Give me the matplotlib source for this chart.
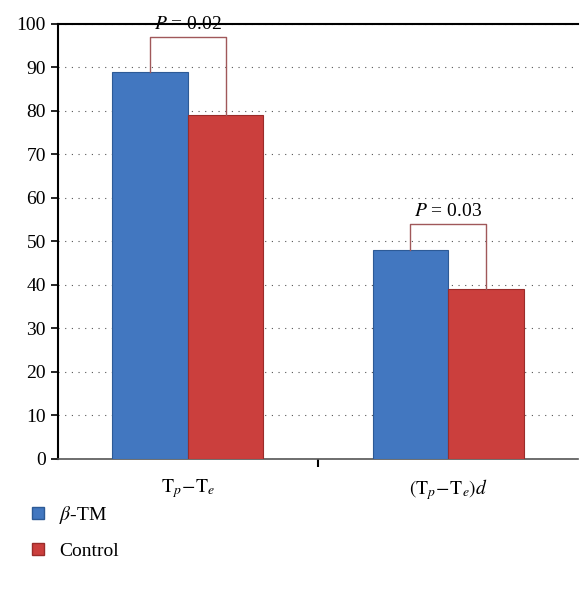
import numpy as np
import matplotlib.pyplot as plt
from matplotlib.patches import Patch

plt.rcParams['font.family'] = 'Liberation Serif'
plt.rcParams['mathtext.fontset'] = 'stix'

# datos
categorias = [r'$\mathrm{T}_p\!-\!\mathrm{T}_e$', r'$(\mathrm{T}_p\!-\!\mathrm{T}_e)d$']
beta_tm = [89, 48]
control = [79, 39]
p_valores = ['0.02', '0.03']
bracket_top = [97, 54]

fig = plt.figure(figsize=(5.84, 5.92), dpi=100)
ax = fig.add_axes([0.099, 0.2247, 0.891, 0.735])

x = np.arange(len(categorias))
w = 0.29
azul = '#4277c0'
rojo = '#cb3f3d'
ax.bar(x - w/2, beta_tm, w, color=azul, edgecolor='#2d5a96', linewidth=0.8, zorder=3)
ax.bar(x + w/2, control, w, color=rojo, edgecolor='#9a2c2a', linewidth=0.8, zorder=3)

# corchetes con valor P (desde el centro de cada barra)
for i in range(len(categorias)):
    xb, xr = x[i] - w/2, x[i] + w/2
    top = bracket_top[i]
    ax.plot([xb, xb, xr, xr], [beta_tm[i], top, top, control[i]],
            color='#a0585a', lw=1.0, zorder=4)
    ax.text(x[i], top + 1.0, r'$P$ = ' + p_valores[i], ha='center', va='bottom',
            fontsize=14, zorder=5)

ax.set_xlim(-0.5, 1.5)
ax.set_ylim(0, 100)
ax.set_yticks(np.arange(0, 101, 10))
ax.yaxis.grid(True, linestyle=(0, (1, 5)), color='#555555', linewidth=0.8)
ax.set_axisbelow(True)

ax.set_xticks([0.5])
ax.set_xticklabels([''])
ax.set_xticks(x, minor=True)
ax.set_xticklabels(categorias, minor=True, fontsize=14)
ax.tick_params(axis='x', which='minor', length=0, pad=13)
ax.tick_params(axis='x', which='major', length=6, width=1.5, direction='out')
ax.tick_params(axis='y', labelsize=14, length=5, width=1.2)

ax.spines['right'].set_visible(False)
ax.spines['top'].set_linewidth(1.5)
ax.spines['left'].set_linewidth(1.5)
ax.spines['bottom'].set_color('#555555')
ax.spines['bottom'].set_linewidth(1.2)

handles = [Patch(facecolor=azul, edgecolor='#2d5a96'),
           Patch(facecolor=rojo, edgecolor='#9a2c2a')]
fig.legend(handles, [r'$\beta$-TM', 'Control'], loc='upper left',
           bbox_to_anchor=(0.025, 0.178), frameon=False, fontsize=14,
           handlelength=0.6, handleheight=0.6, labelspacing=0.85, handletextpad=0.8)

fig.savefig('out.png', dpi=100)
